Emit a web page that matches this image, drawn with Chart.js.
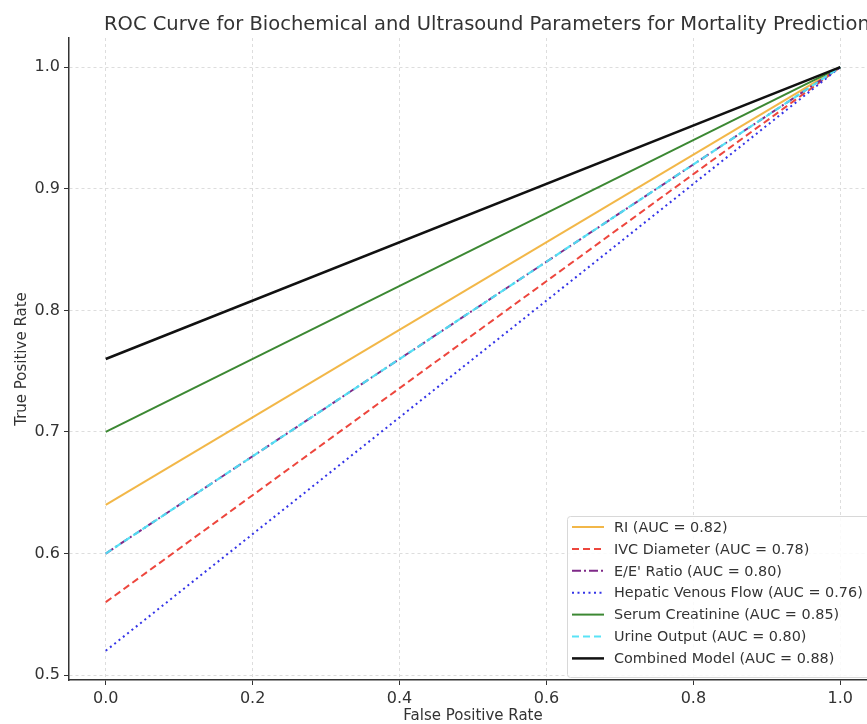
<!DOCTYPE html>
<html>
<head>
<meta charset="utf-8">
<script src="https://cdn.jsdelivr.net/npm/chart.js@4"></script>
<style>
  html, body { margin: 0; padding: 0; background: #fff; overflow: hidden; }
  #wrap { position: relative; width: 900px; height: 724px; }
</style>
</head>
<body>
<div id="wrap"><canvas id="roc"></canvas></div>
<script>
// ROC curves: each model goes from (0, startTpr) to (1, 1)
const labels = [
  'RI (AUC = 0.82)',
  'IVC Diameter (AUC = 0.78)',
  "E/E' Ratio (AUC = 0.80)",
  'Hepatic Venous Flow (AUC = 0.76)',
  'Serum Creatinine (AUC = 0.85)',
  'Urine Output (AUC = 0.80)',
  'Combined Model (AUC = 0.88)'
];
const fprPoints = [0, 1];
const tprRI = [0.64, 1];
const tprIVC = [0.56, 1];
const tprEE = [0.60, 1];
const tprHepatic = [0.52, 1];
const tprCreatinine = [0.70, 1];
const tprUrine = [0.60, 1];
const tprCombined = [0.76, 1];
const xTicks = [0, 0.2, 0.4, 0.6, 0.8, 1.0];
const yTicks = [0.5, 0.6, 0.7, 0.8, 0.9, 1.0];

const styles = [
  { color: 'rgba(240,170,40,0.85)', dash: [], width: 2 },
  { color: 'rgba(235,50,40,0.9)', dash: [7, 4], width: 2 },
  { color: 'rgba(120,30,130,0.95)', dash: [9, 3, 2, 3], width: 2 },
  { color: 'rgba(40,40,230,0.95)', dash: [2, 3.5], width: 2 },
  { color: 'rgba(50,130,40,0.95)', dash: [], width: 2 },
  { color: 'rgba(80,225,245,0.95)', dash: [7, 4], width: 2.2 },
  { color: '#111', dash: [], width: 2.5 }
];
const series = [tprRI, tprIVC, tprEE, tprHepatic, tprCreatinine, tprUrine, tprCombined];

const datasets = series.map((s, i) => ({
  label: labels[i],
  data: fprPoints.map((x, j) => ({ x: x, y: s[j] })),
  borderColor: styles[i].color,
  borderDash: styles[i].dash,
  borderWidth: styles[i].width,
  pointRadius: 0,
  fill: false,
  tension: 0,
  order: series.length - i   // later series drawn on top, like matplotlib
}));

const FONT = "'DejaVu Sans', sans-serif";
const TEXT = '#333';

const decor = {
  id: 'decor',
  afterDraw(chart) {
    const ctx = chart.ctx;
    const a = chart.chartArea;
    ctx.save();
    // title
    ctx.fillStyle = TEXT;
    ctx.font = '19.5px ' + FONT;
    ctx.textAlign = 'left';
    ctx.textBaseline = 'alphabetic';
    ctx.fillText('ROC Curve for Biochemical and Ultrasound Parameters for Mortality Prediction', 104, 30);
    // axis titles
    ctx.textAlign = 'center';
    ctx.font = '15px ' + FONT;
    ctx.fillText('False Positive Rate', (a.left + a.right) / 2, 720);
    ctx.save();
    ctx.translate(26, (a.top + a.bottom) / 2);
    ctx.rotate(-Math.PI / 2);
    ctx.fillText('True Positive Rate', 0, 0);
    ctx.restore();
    // legend
    const lx = 567, ly = 516, lw = 310, lh = 161, row = 21.9;
    ctx.fillStyle = 'rgba(255,255,255,0.85)';
    ctx.strokeStyle = '#d8d8d8';
    ctx.lineWidth = 1;
    ctx.beginPath();
    ctx.roundRect(lx + 0.5, ly + 0.5, lw, lh, 3);
    ctx.fill();
    ctx.stroke();
    ctx.font = '14.4px ' + FONT;
    ctx.textAlign = 'left';
    ctx.textBaseline = 'middle';
    chart.data.datasets.forEach((ds, i) => {
      const y = ly + 11 + i * row;
      ctx.strokeStyle = ds.borderColor;
      ctx.lineWidth = ds.borderWidth;
      ctx.setLineDash(ds.borderDash);
      ctx.beginPath();
      ctx.moveTo(lx + 5, y);
      ctx.lineTo(lx + 37, y);
      ctx.stroke();
      ctx.setLineDash([]);
      ctx.fillStyle = TEXT;
      ctx.fillText(ds.label, lx + 47, y + 1);
    });
    ctx.restore();
  }
};

new Chart(document.getElementById('roc'), {
  type: 'line',
  data: { datasets: datasets },
  options: {
    responsive: true,
    maintainAspectRatio: false,
    animation: false,
    layout: { padding: { left: 0, top: 38, right: 23, bottom: 0 } },
    plugins: { legend: { display: false }, tooltip: { enabled: false } },
    scales: {
      x: {
        type: 'linear',
        min: -0.05,
        max: 1.05,
        afterBuildTicks: s => { s.ticks = xTicks.map(v => ({ value: v })); },
        afterFit: s => { s.height = 44; },
        ticks: { callback: v => v.toFixed(1), color: TEXT, font: { family: FONT, size: 16 }, padding: 4, maxRotation: 0 },
        grid: { color: '#ddd', lineWidth: 1, tickLength: 5, tickColor: '#333', tickBorderDash: [], tickWidth: 1 },
        border: { display: true, color: '#333', width: 1.5, dash: [3, 3] }
      },
      y: {
        type: 'linear',
        min: 0.496,
        max: 1.024,
        afterBuildTicks: s => { s.ticks = yTicks.map(v => ({ value: v })); },
        afterFit: s => { s.width = 69; },
        ticks: { callback: v => v.toFixed(1), color: TEXT, font: { family: FONT, size: 16 }, padding: 4 },
        grid: { color: '#ddd', lineWidth: 1, tickLength: 5, tickColor: '#333', tickBorderDash: [], tickWidth: 1 },
        border: { display: true, color: '#333', width: 1.5, dash: [3, 3] }
      }
    }
  },
  plugins: [decor]
});
</script>
</body>
</html>
